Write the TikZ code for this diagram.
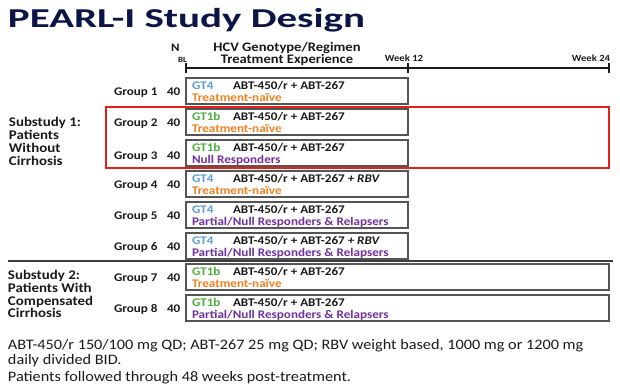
\documentclass[tikz,border=0pt]{standalone}
\usepackage{fontspec}
\setmainfont{Carlito}[FakeStretch=1.12]
\newfontfamily\titlefont{Carlito}[FakeStretch=1.5]
\usetikzlibrary{calc}
\definecolor{navy}{HTML}{0B1547}
\definecolor{gtblue}{HTML}{5B9BD5}
\definecolor{gtgreen}{HTML}{4CAF3A}
\definecolor{naive}{HTML}{F07F1E}
\definecolor{purp}{HTML}{7030A0}
\definecolor{boxgray}{HTML}{555555}
\definecolor{redframe}{HTML}{E52019}
\definecolor{txt}{HTML}{1A1A1A}
\begin{document}
\begin{tikzpicture}[x=1pt,y=-1pt,
  every node/.style={inner sep=0pt, outer sep=0pt, text=txt},
  gbox/.style={draw=boxgray, line width=1.3pt, anchor=north west, minimum height=26pt, minimum width=222pt},
  wbox/.style={gbox, minimum width=423pt},
  lbl/.style={anchor=base west, font=\fontsize{11.7}{12}\selectfont\bfseries},
  sub/.style={anchor=base west, font=\fontsize{13.3}{13}\selectfont\bfseries},
  hdr/.style={anchor=base, font=\fontsize{13}{13}\selectfont\bfseries},
  wk/.style={anchor=base, font=\fontsize{9.5}{10}\selectfont\bfseries},
  foot/.style={anchor=base west, font=\fontsize{14.5}{15}\selectfont},
  tl/.style={draw=txt, line width=1.3pt},
  gt4/.style={lbl, text=gtblue},
  gt1b/.style={lbl, text=gtgreen},
  nv/.style={lbl, text=naive},
  pr/.style={lbl, text=purp}]
\useasboundingbox (0,0) rectangle (620,386);

% title
\node[anchor=base west, text=navy, font=\titlefont\fontsize{27.3}{28}\selectfont\bfseries] (title) at (8,27.5) {PEARL-I Study Design};

% header
\node[anchor=base west, font=\fontsize{11.5}{11}\selectfont\bfseries] (hN) at (171,51) {N};
\node[anchor=base west, font=\fontsize{8}{8}\selectfont\bfseries] (hBL) at (178,62) {BL};
\node[hdr] (h1) at (287,51.5) {HCV Genotype/Regimen};
\node[hdr] (h2) at (287,63.5) {Treatment Experience};
\node[wk] (w12l) at (404,61.5) {Week 12};
\node[wk] (w24l) at (591,61.5) {Week 24};

% timeline
\coordinate (bl) at (186,68);
\coordinate (w12) at (408,68);
\coordinate (w24) at (609,68);
\draw[tl] (bl) -- (w24);
\draw[tl] ($(bl)+(0,-5)$) -- ($(bl)+(0,5)$);
\draw[tl] ($(w12)+(0,-5)$) -- ($(w12)+(0,5)$);
\draw[tl] ($(w24)+(0,-5)$) -- ($(w24)+(0,5)$);

% substudy labels
\node[sub] (s1a) at (9,126.5) {Substudy 1:};
\node[sub] (s1b) at (9,139.5) {Patients};
\node[sub] (s1c) at (9,152.5) {Without};
\node[sub] (s1d) at (9,165.5) {Cirrhosis};
\node[sub] (s2a) at (8,279.5) {Substudy 2:};
\node[sub] (s2b) at (8,292.5) {Patients With};
\node[sub] (s2c) at (8,305.5) {Compensated};
\node[sub] (s2d) at (8,317.5) {Cirrhosis};

% group boxes
\node[gbox] (b1) at (186,78) {};
\node[gbox] (b2) at (186,109) {};
\node[gbox] (b3) at (186,140) {};
\node[gbox] (b4) at (186,171) {};
\node[gbox] (b5) at (186,202) {};
\node[gbox] (b6) at (186,233) {};
\node[wbox] (b7) at (186,264) {};
\node[wbox] (b8) at (186,295) {};

% group labels and N
\node[lbl] (g1) at (114,95) {Group 1};  \node[lbl] (n1) at (167,95) {40};
\node[lbl] (g2) at (114,126) {Group 2}; \node[lbl] (n2) at (167,126) {40};
\node[lbl] (g3) at (114,159) {Group 3}; \node[lbl] (n3) at (167,159) {40};
\node[lbl] (g4) at (114,188) {Group 4}; \node[lbl] (n4) at (167,188) {40};
\node[lbl] (g5) at (114,219) {Group 5}; \node[lbl] (n5) at (167,219) {40};
\node[lbl] (g6) at (114,250) {Group 6}; \node[lbl] (n6) at (167,250) {40};
\node[lbl] (g7) at (114,281) {Group 7}; \node[lbl] (n7) at (167,281) {40};
\node[lbl] (g8) at (114,312) {Group 8}; \node[lbl] (n8) at (167,312) {40};

% box contents
\node[gt4]  (t1a) at ($(b1.north west)+(6,11)$) {GT4};
\node[lbl]  (t1b) at ($(b1.north west)+(47,11)$) {ABT-450/r + ABT-267};
\node[nv]   (t1c) at ($(b1.north west)+(6,23)$) {Treatment-naïve};

\node[gt1b] (t2a) at ($(b2.north west)+(6,11)$) {GT1b};
\node[lbl]  (t2b) at ($(b2.north west)+(47,11)$) {ABT-450/r + ABT-267};
\node[nv]   (t2c) at ($(b2.north west)+(6,23)$) {Treatment-naïve};

\node[gt1b] (t3a) at ($(b3.north west)+(6,11)$) {GT1b};
\node[lbl]  (t3b) at ($(b3.north west)+(47,11)$) {ABT-450/r + ABT-267};
\node[pr]   (t3c) at ($(b3.north west)+(6,23)$) {Null Responders};

\node[gt4]  (t4a) at ($(b4.north west)+(6,11)$) {GT4};
\node[lbl]  (t4b) at ($(b4.north west)+(47,11)$) {ABT-450/r + ABT-267 \textit{+ RBV}};
\node[nv]   (t4c) at ($(b4.north west)+(6,23)$) {Treatment-naïve};

\node[gt4]  (t5a) at ($(b5.north west)+(6,11)$) {GT4};
\node[lbl]  (t5b) at ($(b5.north west)+(47,11)$) {ABT-450/r + ABT-267};
\node[pr]   (t5c) at ($(b5.north west)+(6,23)$) {Partial/Null Responders \& Relapsers};

\node[gt4]  (t6a) at ($(b6.north west)+(6,11)$) {GT4};
\node[lbl]  (t6b) at ($(b6.north west)+(47,11)$) {ABT-450/r + ABT-267 \textit{+ RBV}};
\node[pr]   (t6c) at ($(b6.north west)+(6,23)$) {Partial/Null Responders \& Relapsers};

\node[gt1b] (t7a) at ($(b7.north west)+(6,11)$) {GT1b};
\node[lbl]  (t7b) at ($(b7.north west)+(47,11)$) {ABT-450/r + ABT-267};
\node[nv]   (t7c) at ($(b7.north west)+(6,23)$) {Treatment-naïve};

\node[gt1b] (t8a) at ($(b8.north west)+(6,11)$) {GT1b};
\node[lbl]  (t8b) at ($(b8.north west)+(47,11)$) {ABT-450/r + ABT-267};
\node[pr]   (t8c) at ($(b8.north west)+(6,23)$) {Partial/Null Responders \& Relapsers};

% red highlight frame
\node[draw=redframe, line width=2.5pt, anchor=north west, minimum width=503pt, minimum height=61pt] (hl) at (106,107) {};

% separator
\coordinate (sepl) at (8,261);
\coordinate (sepr) at (613,261);
\draw[draw=txt!85, line width=2pt] (sepl) -- (sepr);

% footnotes
\node[foot] (f1) at (8,349.5) {ABT-450/r 150/100 mg QD; ABT-267 25 mg QD; RBV weight based, 1000 mg or 1200 mg};
\node[foot] (f2) at (8,364.5) {daily divided BID.};
\node[foot] (f3) at (8,381.5) {Patients followed through 48 weeks post-treatment.};
\end{tikzpicture}
\end{document}
